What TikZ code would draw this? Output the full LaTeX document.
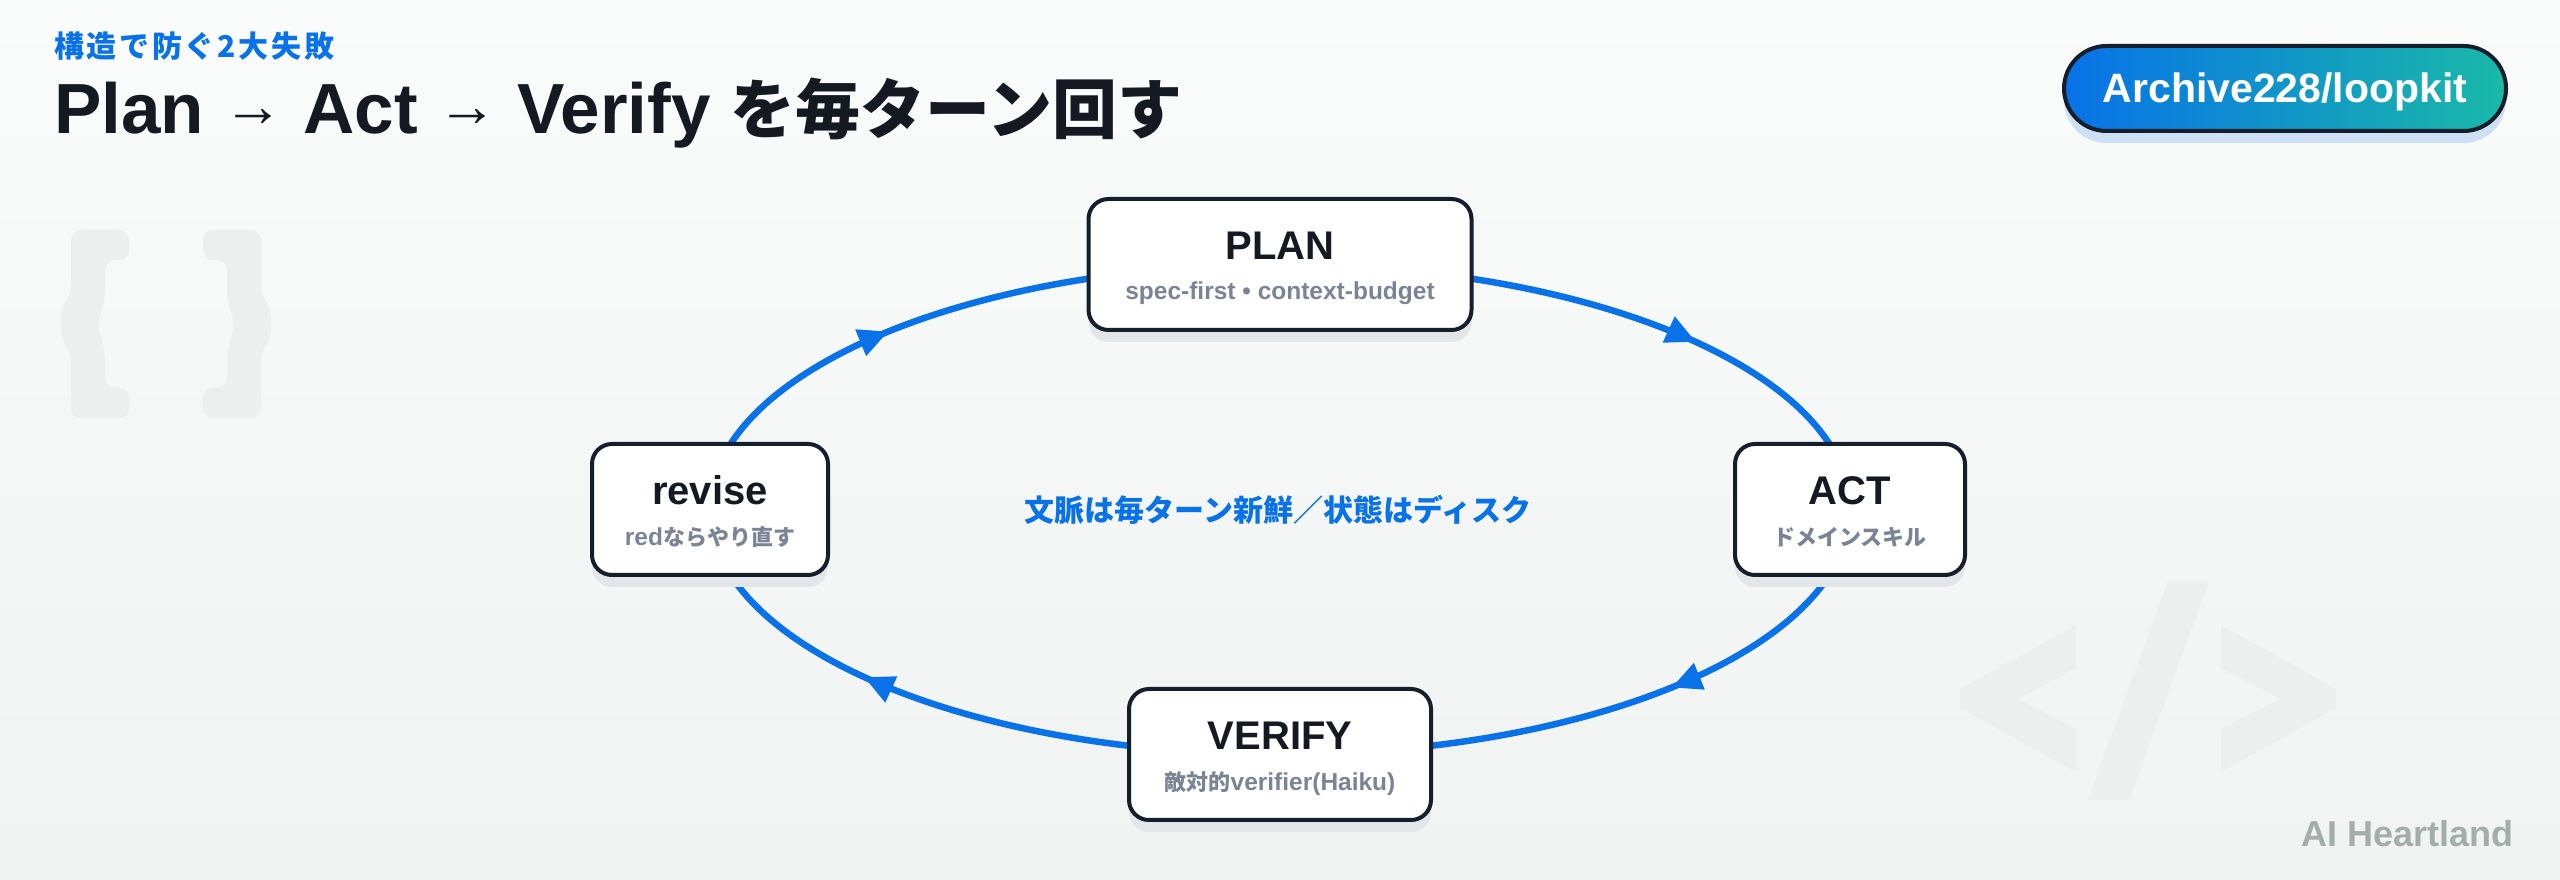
\documentclass[tikz,border=0pt]{standalone}
\usepackage{fontspec}
\setmainfont{Liberation Sans}
\newfontfamily\cjk{Noto Sans CJK JP}
\newfontfamily\cjkwide{Noto Sans CJK JP}[LetterSpace=9]
\usetikzlibrary{arrows.meta,decorations.markings,shadows,shapes.misc}
\definecolor{flow}{HTML}{0A72E8}
\definecolor{ink}{HTML}{151A22}
\definecolor{edge}{HTML}{151E2B}
\definecolor{subg}{HTML}{7B8494}
\definecolor{shd}{HTML}{E3E6E9}
\definecolor{wm}{HTML}{ECEFEE}
\definecolor{brand}{HTML}{A3ADAA}
\definecolor{pillL}{HTML}{0872E8}
\definecolor{pillR}{HTML}{1AB9A8}
\definecolor{pillS}{HTML}{CDE0F6}
\definecolor{bgtop}{HTML}{FAFBFB}
\definecolor{bgbot}{HTML}{F0F3F2}
\pgfdeclarelayer{bgl}
\pgfdeclarelayer{midl}
\pgfsetlayers{bgl,midl,main}
\newcommand{\titlearrow}{{\fontsize{60}{60}\selectfont\raisebox{7pt}{→}}}
\begin{document}
\begin{tikzpicture}[x=1pt,y=1pt,
  stage/.style={draw=edge, line width=4pt, fill=white, rounded corners=20pt, minimum height=131pt, inner sep=0pt,
    drop shadow={shadow xshift=0pt, shadow yshift=-12pt, fill=shd, opacity=1}},
  hd/.style={anchor=base, text=ink, inner sep=0pt, font=\fontsize{40}{46}\selectfont\bfseries},
  sb/.style={anchor=base, text=subg, inner sep=0pt, font=\fontsize{24.5}{28}\selectfont\bfseries},
  cj/.style={font=\cjk\bfseries\fontsize{22}{26}\selectfont},
  flowline/.style={draw=flow, line width=6.5pt},
  tipat/.style={postaction={decorate}, decoration={markings, mark=at position #1 with {\arrow{Triangle[length=30pt,width=27pt]}}}},
  pill/.style={rounded rectangle, draw=edge, line width=4pt, left color=pillL, right color=pillR,
    minimum width=442pt, minimum height=85pt, inner sep=0pt,
    drop shadow={shadow xshift=0pt, shadow yshift=-12pt, fill=pillS, opacity=1}}
]
\useasboundingbox (0,0) rectangle (2560,880);
\begin{pgfonlayer}{bgl}
  \shade[top color=bgtop, bottom color=bgbot] (0,0) rectangle (2560,880);
  % braces watermark
  \fill[wm, rounded corners=10pt] (129,650) -- (71,650) -- (71,583) -- (61,573) -- (61,540) -- (71,530) -- (71,462) -- (129,462) -- (129,492) -- (105,492) -- (105,530) -- (97,555) -- (105,580) -- (105,620) -- (129,620) -- cycle;
  \fill[wm, rounded corners=10pt] (203,650) -- (261,650) -- (261,583) -- (271,573) -- (271,540) -- (261,530) -- (261,462) -- (203,462) -- (203,492) -- (227,492) -- (227,530) -- (235,555) -- (227,580) -- (227,620) -- (203,620) -- cycle;
  % code watermark
  \fill[wm] (1960,191) -- (2076,255) -- (2076,212) -- (2018,181) -- (2076,151) -- (2076,108) -- (1960,172) -- cycle;
  \fill[wm] (2221,255) -- (2336,191) -- (2336,172) -- (2221,108) -- (2221,151) -- (2280,181) -- (2221,212) -- cycle;
  \fill[wm] (2168,299) -- (2209,299) -- (2129,80) -- (2088,80) -- cycle;
\end{pgfonlayer}

% header
\node[anchor=base west, inner sep=0pt, text=flow, font=\cjkwide\bfseries\fontsize{30}{34}\selectfont] (kicker) at (54,822) {構造で防ぐ2大失敗};
\node[anchor=base west, inner sep=0pt, text=ink, font=\fontsize{71}{80}\selectfont\bfseries] (title) at (54,746) {Plan \titlearrow{} Act \titlearrow{} Verify {\cjk\fontsize{65}{70}\selectfont を毎ターン回す}};
\node[pill] (repo) at (2285,791.5) {};
\node[anchor=base, inner sep=0pt, text=white, font=\fontsize{41}{46}\selectfont\bfseries] (repo-t) at ([yshift=-14.5pt]repo.center) {Archive228/loopkit};

% stages
\node[stage, minimum width=383pt] (plan) at (1280,615.5) {};
\node[hd] (plan-t) at ([yshift=5pt]plan.center) {PLAN};
\node[sb] (plan-s) at ([yshift=-35pt]plan.center) {spec-first • context-budget};

\node[stage, minimum width=230pt] (act) at (1850,370.5) {};
\node[hd] (act-t) at ([yshift=5pt]act.center) {ACT};
\node[sb, cj] (act-s) at ([yshift=-36pt]act.center) {ドメインスキル};

\node[stage, minimum width=302pt] (verify) at (1280,125.5) {};
\node[hd] (verify-t) at ([yshift=5pt]verify.center) {VERIFY};
\node[sb] (verify-s) at ([yshift=-36pt]verify.center) {{\cjk\fontsize{22}{26}\selectfont 敵対的}verifier(Haiku)};

\node[stage, minimum width=236pt] (revise) at (710,370.5) {};
\node[hd] (revise-t) at ([yshift=5pt]revise.center) {revise};
\node[sb] (revise-s) at ([yshift=-36pt]revise.center) {red{\cjk\fontsize{22}{26}\selectfont ならやり直す}};

\node[text=flow, inner sep=0pt, font=\cjk\bfseries\fontsize{30}{34}\selectfont] (motto) at (1278,370.5) {文脈は毎ターン新鮮／状態はディスク};

\node[anchor=base east, inner sep=0pt, text=brand, font=\fontsize{36}{40}\selectfont\bfseries] (brand) at (2514,33) {AI Heartland};

% loop
\begin{pgfonlayer}{midl}
  \draw[flowline, tipat=0.64] (plan.center) arc[start angle=90, end angle=0, x radius=570pt, y radius=245pt];
  \draw[flowline, tipat=0.40] (act.center) arc[start angle=0, end angle=-90, x radius=570pt, y radius=245pt];
  \draw[flowline, tipat=0.64] (verify.center) arc[start angle=-90, end angle=-180, x radius=570pt, y radius=245pt];
  \draw[flowline, tipat=0.40] (revise.center) arc[start angle=180, end angle=90, x radius=570pt, y radius=245pt];
\end{pgfonlayer}
\end{tikzpicture}
\end{document}
